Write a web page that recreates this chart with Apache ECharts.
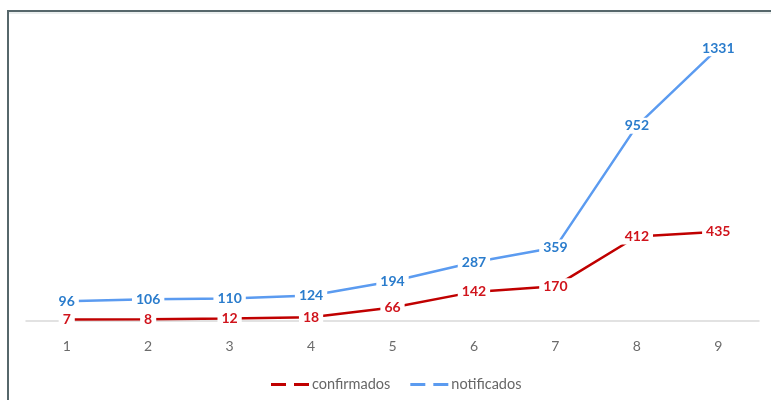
<!DOCTYPE html>
<html>
<head>
<meta charset="utf-8">
<script src="https://cdn.jsdelivr.net/npm/echarts@6/dist/echarts.min.js"></script>
<style>
  html, body { margin: 0; padding: 0; background: #fff; }
  #chart { width: 771px; height: 400px; }
</style>
</head>
<body>
<div id="chart"></div>
<script>
// Semanas epidemiológicas
const categories = ['1', '2', '3', '4', '5', '6', '7', '8', '9'];
// Casos confirmados por semana
const confirmados = [7, 8, 12, 18, 66, 142, 170, 412, 435];
// Casos notificados por semana
const notificados = [96, 106, 110, 124, 194, 287, 359, 952, 1331];

const FONT = 'Lato, "Open Sans", sans-serif';
const RED_LINE = '#c00000';
const RED_TEXT = '#d0141c';
const BLUE_LINE = '#5b9bf0';
const BLUE_TEXT = '#2a7ccc';

// Two short dashes used as the legend key
const dashIcon = 'path://M0,0h15v3h-15z M23,0h15v3h-15z';

function makeSeries(name, data, lineColor, textColor) {
  return {
    name: name,
    type: 'line',
    data: data,
    symbol: 'circle',
    symbolSize: 1,
    showSymbol: true,
    itemStyle: { color: lineColor },
    lineStyle: { color: lineColor, width: 2.5 },
    label: {
      show: true,
      position: 'inside',
      color: textColor,
      fontFamily: FONT,
      fontWeight: 'bold',
      fontSize: 14,
      backgroundColor: '#ffffff',
      padding: [1, 4, 1, 4]
    },
    emphasis: { disabled: true },
    animation: false
  };
}

const chart = echarts.init(document.getElementById('chart'), null, { renderer: 'canvas' });
chart.setOption({
  backgroundColor: '#ffffff',
  animation: false,
  graphic: [
    {
      type: 'polyline',
      shape: { points: [[8, 400], [8, 11], [771, 11]] },
      style: { stroke: '#56676b', lineWidth: 2, fill: null },
      z: 10
    },
    {
      type: 'line',
      shape: { x1: 9, y1: 13, x2: 771, y2: 13 },
      style: { stroke: '#e3e9e9', lineWidth: 1.5 },
      z: 10
    }
  ],
  grid: { left: 26, right: 12, top: 34, bottom: 79 },
  legend: {
    left: 266,
    top: 372,
    itemWidth: 38,
    itemHeight: 3,
    itemGap: 20,
    icon: dashIcon,
    textStyle: { color: '#666666', fontFamily: FONT, fontSize: 14.5, padding: [0, 0, 0, -2] },
    data: ['confirmados', 'notificados']
  },
  xAxis: {
    type: 'category',
    data: categories,
    boundaryGap: true,
    axisLine: { lineStyle: { color: '#d9d9d9', width: 1.5 } },
    axisTick: { show: false },
    axisLabel: { color: '#6b6b6b', fontFamily: FONT, fontSize: 14, margin: 18 }
  },
  yAxis: {
    type: 'value',
    min: 0,
    max: 1400,
    show: false,
    splitLine: { show: false }
  },
  series: [
    makeSeries('confirmados', confirmados, RED_LINE, RED_TEXT),
    makeSeries('notificados', notificados, BLUE_LINE, BLUE_TEXT)
  ]
});
</script>
</body>
</html>
